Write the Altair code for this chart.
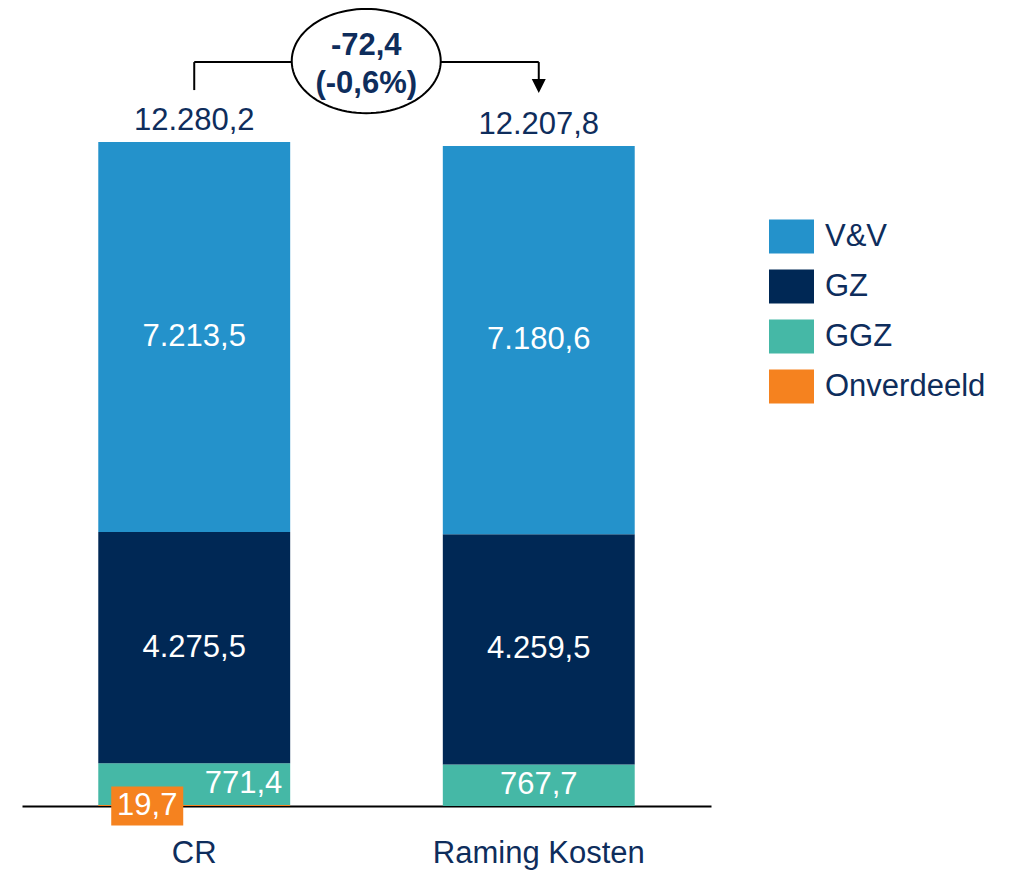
import math
import altair as alt
import pandas as pd

# ---------------- data ----------------
categories = ["CR", "Raming Kosten"]
stack_order = ["Onverdeeld", "GGZ", "GZ", "V&V"]          # bottom -> top
onverdeeld = [19.7, 0.0]
ggz = [771.4, 767.7]
gz = [4275.5, 4259.5]
vv = [7213.5, 7180.6]
totals = [12280.2, 12207.8]

legend_order = ["V&V", "GZ", "GGZ", "Onverdeeld"]
colors = ["#2492CB", "#002855", "#45B8A6", "#F5821F"]

NAVY = "#0E2D5C"
FONT = "Liberation Sans"


def nl(v):
    s = f"{v:,.1f}"
    return s.replace(",", "X").replace(".", ",").replace("X", ".")


rows = []
series = {"Onverdeeld": onverdeeld, "GGZ": ggz, "GZ": gz, "V&V": vv}
for i, c in enumerate(categories):
    base = 0.0
    for s in stack_order:
        v = series[s][i]
        if v <= 0:
            continue
        rows.append(dict(cat=c, seg=s, value=v, y0=base, y1=base + v,
                         mid=base + v / 2, label=nl(v)))
        base += v
df = pd.DataFrame(rows)

tot_df = pd.DataFrame({"cat": categories, "total": totals,
                       "label": [nl(t) for t in totals]})

diff = totals[1] - totals[0]
pct = diff / totals[0] * 100
ann = pd.DataFrame({"cat": [categories[0]], "cat_end": [categories[1]],
                    "level": [max(totals)],
                    "l1": [nl(diff)], "l2": [f"({pct:.1f}%)".replace(".", ",")]})

# ellipse outline as a symbol path in the unit [-1, 1] space (shape only)
_ry = 0.70
_pts = [(math.cos(2 * math.pi * k / 96), _ry * math.sin(2 * math.pi * k / 96))
        for k in range(96)]
ELLIPSE_PATH = "M" + "L".join(f"{px:.4f},{py:.4f}" for px, py in _pts) + "Z"

# ---------------- encodings ----------------
yscale = alt.Scale(domain=[0, 14760], nice=False, zero=True)
xscale = alt.Scale(domain=categories, paddingInner=0.443, paddingOuter=0.2214)

x_main = alt.X("cat:N", scale=xscale, title=None,
               axis=alt.Axis(labelAngle=0, ticks=False, grid=False,
                             labelFontSize=31, labelFont=FONT, labelColor=NAVY,
                             labelPadding=32, domainColor="#000000",
                             domainWidth=2, labelLimit=400))
x_plain = alt.X("cat:N", scale=xscale, title=None)
x_end = alt.X("cat_end:N", scale=xscale, title=None)

bars = alt.Chart(df).mark_bar(stroke=None).encode(
    x=x_main,
    y=alt.Y("y1:Q", scale=yscale, axis=None),
    y2="y0:Q",
    color=alt.Color("seg:N",
                    scale=alt.Scale(domain=legend_order, range=colors),
                    legend=alt.Legend(orient="none", legendX=747, legendY=206,
                                      title=None,
                                      symbolType="M-1,-0.756H1V0.756H-1Z",
                                      symbolSize=2025, symbolStrokeWidth=0,
                                      symbolOpacity=1,
                                      labelFontSize=31, labelFont=FONT,
                                      labelColor=NAVY, labelOffset=11,
                                      rowPadding=10, padding=0, labelLimit=400)),
)

seg_labels = alt.Chart(df).transform_filter(
    "datum.seg != 'Onverdeeld' && !(datum.cat == 'CR' && datum.seg == 'GGZ')"
).mark_text(baseline="middle", color="white", fontSize=31, font=FONT).encode(
    x=x_plain, y=alt.Y("mid:Q", scale=yscale, axis=None), text="label:N")

ggz_cr_label = alt.Chart(df).transform_filter(
    "datum.cat == 'CR' && datum.seg == 'GGZ'"
).mark_text(baseline="middle", align="right", dx=88, color="white",
            fontSize=31, font=FONT).encode(
    x=x_plain, y=alt.Y("mid:Q", scale=yscale, axis=None), text="label:N")

onv_box = alt.Chart(df).transform_filter("datum.seg == 'Onverdeeld'").mark_point(
    shape="M-1,-0.54H1V0.54H-1Z", size=5184, filled=True, opacity=1,
    color="#F5821F", xOffset=-47).encode(
    x=x_plain, y=alt.Y("y0:Q", scale=yscale, axis=None))

onv_label = alt.Chart(df).transform_filter("datum.seg == 'Onverdeeld'").mark_text(
    baseline="middle", color="white", fontSize=31, font=FONT, dx=-47).encode(
    x=x_plain, y=alt.Y("y0:Q", scale=yscale, axis=None), text="label:N")

total_labels = alt.Chart(tot_df).mark_text(
    baseline="alphabetic", dy=-12, color=NAVY, fontSize=31, font=FONT).encode(
    x=x_plain, y=alt.Y("total:Q", scale=yscale, axis=None), text="label:N")

# ---------------- change annotation ----------------
left_v = alt.Chart(ann).mark_rule(color="#000000", strokeWidth=2,
                                  yOffset=-52, y2Offset=-80).encode(
    x=x_plain, y=alt.Y("level:Q", scale=yscale, axis=None), y2="level:Q")

horiz = alt.Chart(ann).mark_rule(color="#000000", strokeWidth=2,
                                 yOffset=-80).encode(
    x=x_plain, x2="cat_end:N", y=alt.Y("level:Q", scale=yscale, axis=None))

right_v = alt.Chart(ann).mark_rule(color="#000000", strokeWidth=2,
                                   yOffset=-80, y2Offset=-63).encode(
    x=x_end, y=alt.Y("level:Q", scale=yscale, axis=None), y2="level:Q")

arrow = alt.Chart(ann).mark_point(shape="M-1,-1L1,-1L0,1Z", size=196,
                                  filled=True, opacity=1, color="#000000",
                                  yOffset=-56).encode(
    x=x_end, y=alt.Y("level:Q", scale=yscale, axis=None))

ellipse = alt.Chart(ann).mark_point(
    shape=ELLIPSE_PATH, size=22201,
    filled=True, fill="white", stroke="#000000", strokeWidth=2, opacity=1,
    xOffset=172, yOffset=-81).encode(
    x=x_plain, y=alt.Y("level:Q", scale=yscale, axis=None))

ell_t1 = alt.Chart(ann).mark_text(baseline="alphabetic", fontWeight="bold",
                                  fontSize=31, font=FONT, color=NAVY,
                                  dx=172, dy=-87).encode(
    x=x_plain, y=alt.Y("level:Q", scale=yscale, axis=None), text="l1:N")

ell_t2 = alt.Chart(ann).mark_text(baseline="alphabetic", fontWeight="bold",
                                  fontSize=31, font=FONT, color=NAVY,
                                  dx=172, dy=-49).encode(
    x=x_plain, y=alt.Y("level:Q", scale=yscale, axis=None), text="l2:N")

chart = alt.layer(
    bars, seg_labels, ggz_cr_label, onv_box, onv_label, total_labels,
    left_v, horiz, right_v, arrow, ellipse, ell_t1, ell_t2
).properties(
    width=689, height=798,
    padding={"left": 14, "top": 0, "right": 292, "bottom": 65},
    autosize=alt.AutoSizeParams(type="none"),
    background="white",
).configure_view(stroke="transparent", strokeWidth=0)

chart.save("out.html", embed_options={"renderer": "svg", "actions": False})
